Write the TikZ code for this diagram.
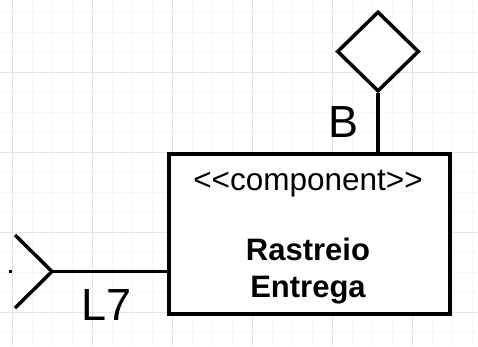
\documentclass[tikz,border=0pt]{standalone}
\usepackage{fontspec}
\setmainfont{Liberation Sans}
\usetikzlibrary{shapes.geometric}
\begin{document}
\begin{tikzpicture}[x=1pt,y=-1pt,
  gridminor/.style={line width=1pt, draw=black!3},
  gridmajor/.style={line width=1pt, draw=black!10},
  wire/.style={line width=3.5pt, draw=black},
  compbox/.style={wire, fill=white, rectangle, inner sep=0pt,
    minimum width=281pt, minimum height=160pt, anchor=north west},
  portshape/.style={wire, fill=white, diamond, inner sep=0pt,
    minimum width=82pt, minimum height=80pt},
  biglabel/.style={font=\fontsize{45}{50}\selectfont, inner sep=0pt, anchor=base},
  stereo/.style={font=\fontsize{31.5}{36}\selectfont, inner sep=0pt, anchor=base},
  compname/.style={font=\fontsize{31}{36}\selectfont\bfseries, inner sep=0pt, anchor=base}]
\useasboundingbox (0,0) rectangle (478,346);
\fill[white] (0,0) rectangle (478,346);
% background grid
\foreach \x in {12.5,32.5,...,472.5} \draw[gridminor] (\x,0) -- (\x,346);
\foreach \y in {12.5,32.5,...,342.5} \draw[gridminor] (0,\y) -- (478,\y);
\foreach \x in {12.5,92.5,...,412.5} \draw[gridmajor] (\x,0) -- (\x,346);
\foreach \y in {72.5,152.5,...,312.5} \draw[gridmajor] (0,\y) -- (478,\y);

% component
\node[compbox] (comp) at (167,152) {};
\node[stereo] (stereotype) at (308,190) {{<}{<}component{>}{>}};
\node[compname] (name1) at (308,260) {Rastreio};
\node[compname] (name2) at (308,297) {Entrega};

% provided port (diamond) on top
\node[portshape] (port) at (378,51.5) {};
\draw[wire] (port.south) -- (port.south |- comp.north);
\node[biglabel] (lblB) at (343,137) {B};

% required interface (fork) on the left
\coordinate (fork) at (52,271.5);
\coordinate (armup) at (15,235);
\coordinate (armdown) at (15,308);
\draw[wire] (comp.west |- fork) -- (fork);
\draw[wire] (armup) -- (fork) -- (armdown);
\node[biglabel] (lblL) at (107,320) {L7};
\fill (8.5,270) rectangle (11.5,273);
\end{tikzpicture}
\end{document}
